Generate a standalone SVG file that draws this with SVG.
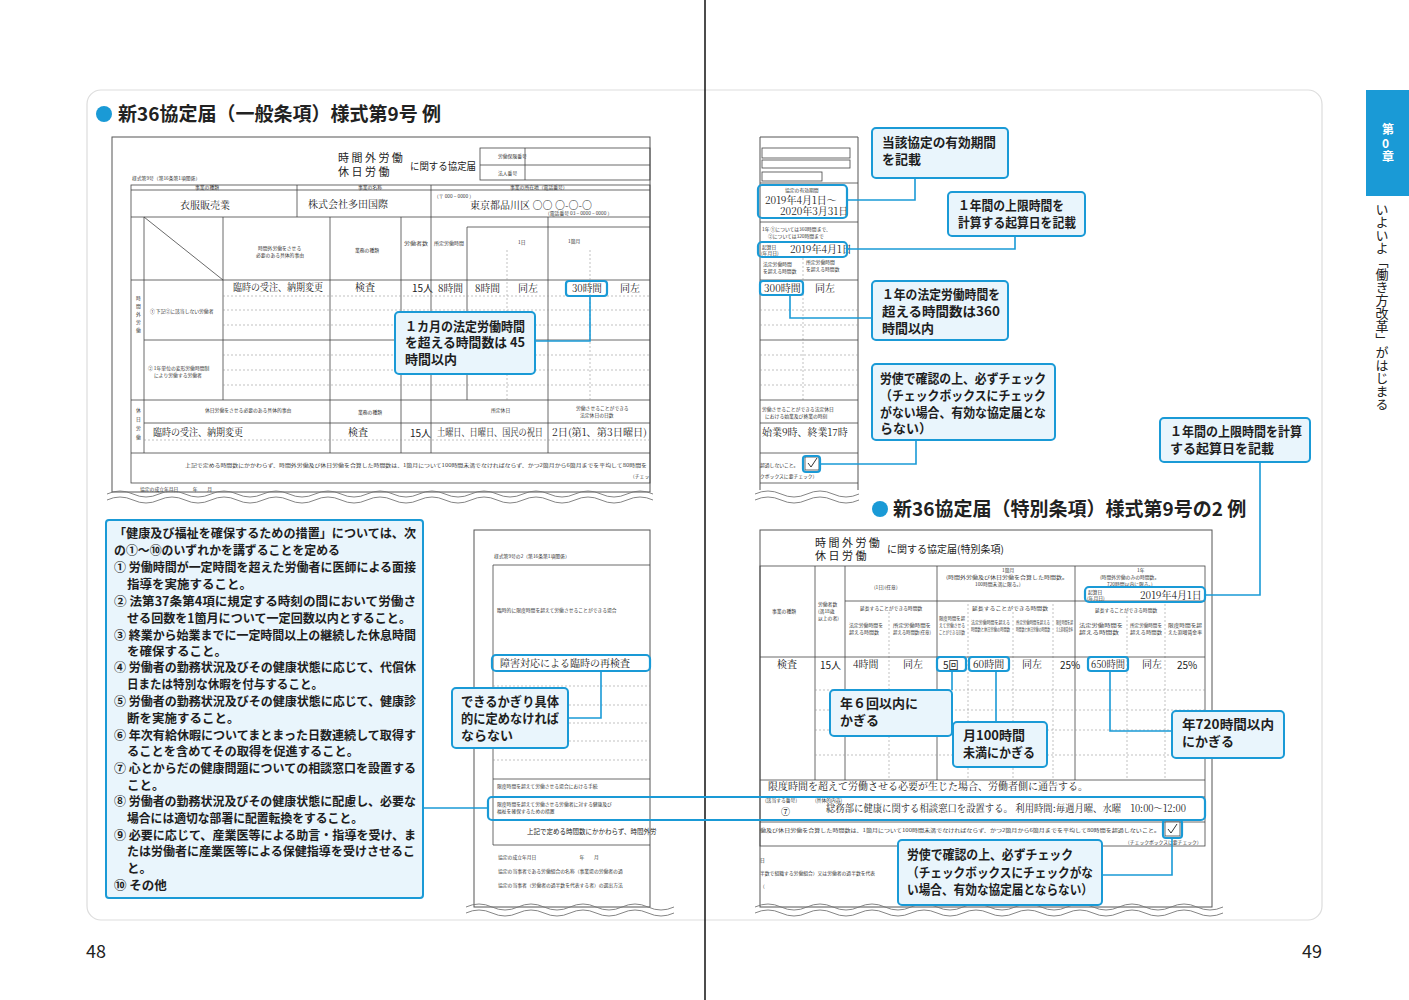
<svg xmlns="http://www.w3.org/2000/svg" width="1409" height="1000" viewBox="0 0 1409 1000">
<style>
text{font-family:"Noto Sans CJK JP","Noto Sans",sans-serif;fill:#222}
.f{fill:#fff;stroke:#555;stroke-width:1}
.t{fill:none;stroke:#444;stroke-width:0.8}
.d{fill:none;stroke:#999;stroke-width:0.6;stroke-dasharray:2 2}
.hl{fill:none;stroke:#1a9ad6;stroke-width:2.2}
.co{fill:#e9f5fc;stroke:#1a9ad6;stroke-width:2}
.cl{fill:none;stroke:#1a9ad6;stroke-width:1.6}
.ct{font-size:13px;font-weight:bold;fill:#1e1e1e}
.m{font-size:12.5px;font-weight:bold;fill:#1e1e1e}
.s{font-size:4.8px;fill:#333}
.v{font-size:10px;fill:#222;font-family:"Noto Serif CJK JP","Noto Sans CJK JP",serif}
.w{fill:none;stroke:#777;stroke-width:0.9}
.tt{font-size:19px;font-weight:bold}
</style>
<rect x="0" y="0" width="1409" height="1000" fill="#fff"/>
<rect x="87" y="90" width="1235" height="830" rx="14" fill="none" stroke="#ddd" stroke-width="1.2"/>
<line x1="705" y1="0" x2="705" y2="1000" stroke="#111" stroke-width="1.5"/>
<text x="86" y="958" font-size="18">48</text>
<text x="1302" y="958" font-size="18">49</text>
<g id="tab">
<rect x="1366" y="90" width="43" height="106" fill="#1a9ad6"/>
<text x="1382" y="134" font-size="12" font-weight="bold" style="fill:#fff">第</text>
<text x="1382" y="148" font-size="12" font-weight="bold" style="fill:#fff">0</text>
<text x="1382" y="161" font-size="12" font-weight="bold" style="fill:#fff">章</text>
<text x="1382" y="203" font-size="13" writing-mode="vertical-rl">いよいよ「働き方改革」がはじまる</text>
</g>

<g id="title-left"><circle cx="104" cy="114" r="8" fill="#1a9ad6"/><text x="118" y="121" class="tt">新36協定届（一般条項）様式第9号 例</text></g>
<g id="title-right"><circle cx="880" cy="509" r="8" fill="#1a9ad6"/><text x="893" y="516" class="tt">新36協定届（特別条項）様式第9号の2 例</text></g>

<g id="form-left">
<rect x="112" y="137" width="538" height="355" class="f"/>
<text x="338" y="162" font-size="11">時 間 外 労 働</text>
<text x="338" y="176" font-size="11">休  日  労  働</text>
<text x="410" y="170" font-size="10" textLength="66" lengthAdjust="spacingAndGlyphs">に関する協定届</text>
<rect x="480" y="148" width="170" height="32" class="t"/>
<line x1="480" y1="165" x2="650" y2="165" class="t"/><line x1="525" y1="148" x2="525" y2="180" class="t"/>
<text x="498" y="158" class="s">労働保険番号</text><text x="498" y="175" class="s">法人番号</text>
<text x="132" y="180" class="s">様式第9号（第16条第1項関係）</text>
<rect x="131" y="185" width="519" height="298" class="t"/>
<line x1="131" y1="190" x2="650" y2="190" class="t"/>
<line x1="131" y1="217" x2="650" y2="217" class="t"/>
<line x1="131" y1="280" x2="650" y2="280" class="t"/>
<line x1="144" y1="340" x2="650" y2="340" class="t"/>
<line x1="131" y1="400" x2="650" y2="400" class="t"/>
<line x1="144" y1="423" x2="650" y2="423" class="t"/>
<line x1="131" y1="453" x2="650" y2="453" class="t"/>
<line x1="297" y1="185" x2="297" y2="217" class="t"/><line x1="431" y1="185" x2="431" y2="217" class="t"/>
<line x1="144" y1="217" x2="144" y2="453" class="t"/>
<line x1="144" y1="217" x2="223" y2="280" class="t"/>
<line x1="223" y1="217" x2="223" y2="400" class="t"/>
<line x1="330" y1="217" x2="330" y2="453" class="t"/>
<line x1="401" y1="217" x2="401" y2="453" class="t"/>
<line x1="431" y1="217" x2="431" y2="453" class="t"/>
<line x1="467" y1="227" x2="467" y2="400" class="t"/>
<line x1="548" y1="217" x2="548" y2="453" class="t"/>
<line x1="467" y1="227" x2="650" y2="227" class="t"/>
<line x1="507" y1="250" x2="507" y2="400" class="d"/><line x1="590" y1="250" x2="590" y2="400" class="d"/>
<line x1="223" y1="296" x2="650" y2="296" class="d"/><line x1="223" y1="310" x2="650" y2="310" class="d"/><line x1="223" y1="325" x2="650" y2="325" class="d"/>
<line x1="223" y1="355" x2="650" y2="355" class="d"/><line x1="223" y1="370" x2="650" y2="370" class="d"/><line x1="223" y1="385" x2="650" y2="385" class="d"/>
<line x1="144" y1="440" x2="650" y2="440" class="d"/>
<text x="195" y="189" class="s">事業の種類</text><text x="358" y="189" class="s">事業の名称</text><text x="510" y="189" class="s">事業の所在地（電話番号）</text>
<text x="180" y="209" class="v" font-size="11">衣服販売業</text>
<text x="308" y="208" class="v" font-size="11">株式会社多田国際</text>
<text x="434" y="198" class="s">（〒 000 − 0000 ）</text>
<text x="470" y="209" class="v">東京都品川区 ○○ ○-○-○</text>
<text x="545" y="215" class="s">（電話番号 03 − 0000 − 0000 ）</text>
<text x="258" y="250" class="s">時間外労働をさせる</text><text x="256" y="257" class="s">必要のある具体的事由</text>
<text x="355" y="252" class="s">業務の種類</text>
<text x="404" y="245" class="s" textLength="24" lengthAdjust="spacingAndGlyphs">労働者数</text><text x="434" y="245" class="s" textLength="30" lengthAdjust="spacingAndGlyphs">所定労働時間</text>
<text x="518" y="244" class="s">1日</text><text x="568" y="243" class="s">1箇月</text>
<text x="150" y="313" class="s">① 下記②に該当しない労働者</text>
<text x="148" y="370" class="s">② 1年単位の変形労働時間制</text><text x="154" y="377" class="s">により労働する労働者</text>
<text x="136" y="300" class="s">時</text><text x="136" y="308" class="s">間</text><text x="136" y="316" class="s">外</text><text x="136" y="324" class="s">労</text><text x="136" y="332" class="s">働</text>
<text x="136" y="412" class="s">休</text><text x="136" y="421" class="s">日</text><text x="136" y="430" class="s">労</text><text x="136" y="439" class="s">働</text>
<text x="233" y="291" class="v" textLength="90" lengthAdjust="spacingAndGlyphs">臨時の受注、納期変更</text>
<text x="355" y="291" class="v">検査</text>
<text x="412" y="292" font-size="10">15人</text>
<text x="438" y="292" class="v" textLength="25" lengthAdjust="spacingAndGlyphs">8時間</text>
<text x="475" y="292" class="v" textLength="25" lengthAdjust="spacingAndGlyphs">8時間</text>
<text x="518" y="292" class="v">同左</text>
<text x="572" y="292" class="v" textLength="30" lengthAdjust="spacingAndGlyphs">30時間</text>
<text x="620" y="292" class="v">同左</text>
<rect x="566" y="281" width="41" height="15" rx="3" class="hl"/>
<text x="205" y="412" class="s">休日労働をさせる必要のある具体的事由</text><text x="358" y="414" class="s">業務の種類</text>
<text x="491" y="412" class="s">所定休日</text><text x="576" y="410" class="s">労働させることができる</text><text x="580" y="417" class="s">法定休日の日数</text>
<text x="153" y="436" class="v" textLength="90" lengthAdjust="spacingAndGlyphs">臨時の受注、納期変更</text>
<text x="348" y="436" class="v">検査</text>
<text x="410" y="437" font-size="10">15人</text>
<text x="437" y="436" class="v" textLength="106" lengthAdjust="spacingAndGlyphs">土曜日、日曜日、国民の祝日</text>
<text x="552" y="436" class="v" textLength="95" lengthAdjust="spacingAndGlyphs">2日(第1、第3日曜日)</text>
<text x="185" y="467" class="s" textLength="462" lengthAdjust="spacingAndGlyphs">上記で定める時間数にかかわらず、時間外労働及び休日労働を合算した時間数は、1箇月について100時間未満でなければならず、かつ2箇月から6箇月までを平均して80時間を</text>
<text x="630" y="478" class="s">（チェッ</text>
<text x="140" y="491" class="s">協定の成立年月日　　　年　　月</text>
<path class="w" d="M107,494 q13,-6 26,0 t26,0 t26,0 t26,0 t26,0 t26,0 t26,0 t26,0 t26,0 t26,0 t26,0 t26,0 t26,0 t26,0 t26,0 t26,0 t26,0 t26,0 t26,0 t26,0 t26,0"/>
<path class="w" d="M107,500 q13,-6 26,0 t26,0 t26,0 t26,0 t26,0 t26,0 t26,0 t26,0 t26,0 t26,0 t26,0 t26,0 t26,0 t26,0 t26,0 t26,0 t26,0 t26,0 t26,0 t26,0 t26,0"/>
</g>

<g id="form-mid">
<rect x="474" y="530" width="176" height="377" class="f"/>
<text x="494" y="558" class="s">様式第9号の2（第16条第1項関係）</text>
<polyline points="650,565 493,565 493,845 650,845" class="t"/>
<text x="497" y="612" class="s">臨時的に限度時間を超えて労働させることができる場合</text>
<text x="500" y="667" class="v">障害対応による臨時の再検査</text>
<line x1="493" y1="686" x2="650" y2="686" class="d"/><line x1="493" y1="705" x2="650" y2="705" class="d"/><line x1="493" y1="723" x2="650" y2="723" class="d"/><line x1="493" y1="741" x2="650" y2="741" class="d"/><line x1="493" y1="760" x2="650" y2="760" class="d"/>
<line x1="493" y1="779" x2="650" y2="779" class="t"/>
<text x="497" y="788" class="s">限度時間を超えて労働させる場合における手続</text>
<text x="497" y="806" class="s">限度時間を超えて労働させる労働者に対する健康及び</text>
<text x="497" y="813" class="s">福祉を確保するための措置</text>
<text x="527" y="834" font-size="6.5" fill="#333">上記で定める時間数にかかわらず、時間外労</text>
<text x="498" y="859" class="s">協定の成立年月日　　　　　　　　　年　　月</text>
<text x="498" y="873" class="s">協定の当事者である労働組合の名称（事業場の労働者の過</text>
<text x="498" y="887" class="s">協定の当事者（労働者の過半数を代表する者）の選出方法</text>
<path class="w" d="M466,907 q13,-6 26,0 t26,0 t26,0 t26,0 t26,0 t26,0 t26,0 t26,0"/>
<path class="w" d="M466,913 q13,-6 26,0 t26,0 t26,0 t26,0 t26,0 t26,0 t26,0 t26,0"/>
</g>

<g id="form-right-top">
<polyline points="760,490 760,137 858,137 858,490" class="f"/>
<rect x="762" y="148" width="88" height="10" class="t"/><rect x="762" y="160" width="88" height="8" class="t"/>
<rect x="762" y="172" width="60" height="9" class="t"/>
<line x1="760" y1="183" x2="858" y2="183" class="t"/>
<text x="785" y="192" class="s">協定の有効期間</text>
<text x="765" y="204" font-size="9.5" class="v">2019年4月1日〜</text>
<text x="780" y="215" font-size="9.5" class="v">2020年3月31日</text>
<line x1="760" y1="222" x2="858" y2="222" class="t"/>
<text x="762" y="231" class="s">1年 ①については360時間まで、</text><text x="768" y="238" class="s">②については320時間まで</text>
<text x="762" y="249" class="s">起算日</text><text x="761" y="255" class="s" font-size="4.3">(年月日)</text>
<text x="790" y="253" font-size="9" class="v">2019年4月1日</text>
<text x="763" y="266" class="s">法定労働時間</text><text x="763" y="273" class="s">を超える時間数</text>
<text x="806" y="264" class="s">所定労働時間</text><text x="806" y="271" class="s">を超える時間数</text>
<line x1="760" y1="280" x2="858" y2="280" class="t"/>
<line x1="803" y1="258" x2="803" y2="400" class="d"/>
<text x="764" y="292" class="v" font-size="9.5">300時間</text>
<text x="815" y="292" class="v">同左</text>
<line x1="760" y1="310" x2="858" y2="310" class="d"/><line x1="760" y1="325" x2="858" y2="325" class="d"/><line x1="760" y1="340" x2="858" y2="340" class="t"/>
<line x1="760" y1="355" x2="858" y2="355" class="d"/><line x1="760" y1="370" x2="858" y2="370" class="d"/><line x1="760" y1="385" x2="858" y2="385" class="d"/>
<line x1="760" y1="400" x2="858" y2="400" class="t"/>
<text x="762" y="411" class="s">労働させることができる法定休日</text><text x="765" y="418" class="s">における始業及び終業の時刻</text>
<line x1="760" y1="423" x2="858" y2="423" class="t"/>
<text x="762" y="436" class="v" font-size="9">始業9時、終業17時</text>
<line x1="760" y1="453" x2="858" y2="453" class="t"/>
<text x="760" y="467" class="s">超過しないこと。</text>
<text x="760" y="478" class="s">クボックスに要チェック）</text>
<rect x="805" y="457" width="14" height="13" class="t"/>
<path d="M808,463 l3,4 l6,-9" fill="none" stroke="#333" stroke-width="1"/>
<line x1="760" y1="483" x2="858" y2="483" class="t"/>
<path class="w" d="M755,494 q13,-6 26,0 t26,0 t26,0 t26,0"/>
<path class="w" d="M755,500 q13,-6 26,0 t26,0 t26,0 t26,0"/>
</g>

<g id="form-special">
<rect x="760" y="530" width="452" height="377" class="f"/>
<text x="815" y="547" font-size="11">時 間 外 労 働</text>
<text x="815" y="560" font-size="11">休  日  労  働</text>
<text x="887" y="553" font-size="10">に関する協定届(特別条項)</text>
<rect x="760" y="566" width="445" height="280" class="t"/>
<line x1="815" y1="566" x2="815" y2="780" class="t"/>
<line x1="845" y1="566" x2="845" y2="780" class="t"/>
<line x1="937" y1="566" x2="937" y2="780" class="t"/>
<line x1="1075" y1="566" x2="1075" y2="780" class="t"/>
<line x1="845" y1="601" x2="1205" y2="601" class="t"/>
<line x1="889" y1="612" x2="889" y2="780" class="d"/>
<line x1="968" y1="604" x2="968" y2="780" class="d"/>
<line x1="1013" y1="612" x2="1013" y2="780" class="d"/>
<line x1="1053" y1="604" x2="1053" y2="780" class="d"/>
<line x1="1127" y1="612" x2="1127" y2="780" class="d"/>
<line x1="1165" y1="604" x2="1165" y2="780" class="d"/>
<line x1="760" y1="657" x2="1205" y2="657" class="t"/>
<line x1="815" y1="690" x2="1205" y2="690" class="d"/><line x1="815" y1="710" x2="1205" y2="710" class="d"/><line x1="815" y1="730" x2="1205" y2="730" class="d"/><line x1="815" y1="755" x2="1205" y2="755" class="d"/>
<line x1="760" y1="780" x2="1205" y2="780" class="t"/>
<line x1="760" y1="797" x2="1205" y2="797" class="t"/>
<line x1="760" y1="822" x2="1205" y2="822" class="t"/>
<text x="772" y="613" class="s">事業の種類</text>
<text x="818" y="606" class="s">労働者数</text><text x="818" y="613" class="s">(満18歳</text><text x="818" y="620" class="s">以上の者)</text>
<text x="874" y="589" class="s">(1日)(任意)</text>
<text x="860" y="610" class="s">延長することができる時間数</text>
<text x="849" y="627" class="s" textLength="34" lengthAdjust="spacingAndGlyphs">法定労働時間を</text><text x="849" y="634" class="s" textLength="30" lengthAdjust="spacingAndGlyphs">超える時間数</text>
<text x="893" y="627" class="s" textLength="38" lengthAdjust="spacingAndGlyphs">所定労働時間を</text><text x="893" y="634" class="s" textLength="38" lengthAdjust="spacingAndGlyphs">超える時間数(任意)</text>
<text x="1002" y="572" class="s">1箇月</text>
<text x="946" y="579" class="s" textLength="122" lengthAdjust="spacingAndGlyphs">(時間外労働及び休日労働を合算した時間数。</text>
<text x="975" y="586" class="s">100時間未満に限る。)</text>
<text x="939" y="620" class="s" textLength="26" lengthAdjust="spacingAndGlyphs">限度時間を超</text><text x="939" y="627" class="s" textLength="26" lengthAdjust="spacingAndGlyphs">えて労働させる</text><text x="939" y="634" class="s" textLength="26" lengthAdjust="spacingAndGlyphs">ことができる回数</text>
<text x="972" y="610" class="s" textLength="76" lengthAdjust="spacingAndGlyphs">延長することができる時間数</text>
<text x="971" y="624" class="s" textLength="39" lengthAdjust="spacingAndGlyphs">法定労働時間を超える</text><text x="971" y="631" class="s" textLength="39" lengthAdjust="spacingAndGlyphs">時間数と休日労働の時間数</text>
<text x="1016" y="624" class="s" textLength="34" lengthAdjust="spacingAndGlyphs">所定労働時間を超える</text><text x="1016" y="631" class="s" textLength="34" lengthAdjust="spacingAndGlyphs">時間数と休日労働の時間数</text>
<text x="1056" y="624" class="s" textLength="17" lengthAdjust="spacingAndGlyphs">限度時間を超</text><text x="1056" y="631" class="s" textLength="17" lengthAdjust="spacingAndGlyphs">えた割増賃金率</text>
<text x="1137" y="572" class="s">1年</text>
<text x="1100" y="579" class="s">(時間外労働のみの時間数。</text><text x="1107" y="586" class="s">720時間以内に限る。)</text>
<text x="1088" y="594" class="s" font-size="4.3">起算日</text><text x="1087" y="600" class="s" font-size="4.3">(年月日)</text>
<text x="1140" y="599" class="v" font-size="9">2019年4月1日</text>
<text x="1095" y="612" class="s">延長することができる時間数</text>
<text x="1079" y="627" class="s" textLength="44" lengthAdjust="spacingAndGlyphs">法定労働時間を</text><text x="1079" y="634" class="s" textLength="40" lengthAdjust="spacingAndGlyphs">超える時間数</text>
<text x="1130" y="627" class="s" textLength="32" lengthAdjust="spacingAndGlyphs">所定労働時間を</text><text x="1130" y="634" class="s" textLength="32" lengthAdjust="spacingAndGlyphs">超える時間数</text>
<text x="1168" y="627" class="s" textLength="34" lengthAdjust="spacingAndGlyphs">限度時間を超</text><text x="1168" y="634" class="s" textLength="34" lengthAdjust="spacingAndGlyphs">えた割増賃金率</text>
<text x="777" y="668" class="v">検査</text>
<text x="820" y="669" font-size="10">15人</text>
<text x="853" y="668" class="v">4時間</text>
<text x="903" y="668" class="v">同左</text>
<text x="943" y="669" font-size="10">5回</text>
<text x="973" y="668" class="v">60時間</text>
<text x="1022" y="668" class="v">同左</text>
<text x="1060" y="669" font-size="10">25%</text>
<text x="1091" y="668" class="v" textLength="34" lengthAdjust="spacingAndGlyphs">650時間</text>
<text x="1142" y="668" class="v">同左</text>
<text x="1177" y="669" font-size="10">25%</text>
<text x="768" y="790" class="v" font-size="10.5">限度時間を超えて労働させる必要が生じた場合、労働者側に通告する。</text>
<text x="765" y="802" class="s">(該当する番号)</text>
<text x="781" y="815" font-size="9">⑦</text>
<text x="815" y="802" class="s">(具体的内容)</text>
<text x="826" y="812" class="v" font-size="10.5" textLength="360" lengthAdjust="spacingAndGlyphs">総務部に健康に関する相談窓口を設置する。 利用時間:毎週月曜、水曜　10:00〜12:00</text>
<text x="760" y="832" class="s" textLength="400" lengthAdjust="spacingAndGlyphs">働及び休日労働を合算した時間数は、1箇月について100時間未満でなければならず、かつ2箇月から6箇月までを平均して80時間を超過しないこと。</text>
<text x="1125" y="844" class="s">（チェックボックスに要チェック）</text>
<rect x="1165" y="822" width="15" height="14" class="t" style="fill:#fff"/>
<path d="M1168,829 l3,4 l6,-9" fill="none" stroke="#333" stroke-width="1"/>
<text x="760" y="862" class="s">日</text>
<text x="760" y="875" class="s">半数で組織する労働組合）又は労働者の過半数を代表</text>
<text x="760" y="888" class="s">（</text>
<path class="w" d="M755,907 q13,-6 26,0 t26,0 t26,0 t26,0 t26,0 t26,0 t26,0 t26,0 t26,0 t26,0 t26,0 t26,0 t26,0 t26,0 t26,0 t26,0 t26,0 t26,0"/>
<path class="w" d="M755,913 q13,-6 26,0 t26,0 t26,0 t26,0 t26,0 t26,0 t26,0 t26,0 t26,0 t26,0 t26,0 t26,0 t26,0 t26,0 t26,0 t26,0 t26,0 t26,0"/>
</g>

<g id="highlights">
<rect x="758" y="185" width="89" height="33" rx="4" class="hl"/>
<rect x="758" y="242" width="89" height="15" rx="4" class="hl"/>
<rect x="760" y="281" width="43" height="14" rx="3" class="hl"/>
<rect x="803" y="456" width="17" height="16" rx="3" class="hl"/>
<rect x="492" y="655" width="158" height="16" rx="4" class="hl"/>
<rect x="488" y="797" width="717" height="23" rx="4" class="hl"/>
<rect x="1085" y="587" width="120" height="15" rx="4" class="hl"/>
<rect x="937" y="657" width="29" height="14" rx="3" class="hl"/>
<rect x="969" y="657" width="40" height="14" rx="3" class="hl"/>
<rect x="1088" y="657" width="40" height="14" rx="3" class="hl"/>
<rect x="1163" y="820" width="19" height="18" rx="3" class="hl"/>
</g>

<g id="connectors">
<path class="cl" d="M535,341 H590 V296"/>
<path class="cl" d="M915,178 V200 H847"/>
<path class="cl" d="M847,249 H1015 V236"/>
<path class="cl" d="M790,295 V318 H872"/>
<path class="cl" d="M916,440 V464 H820"/>
<path class="cl" d="M1260,462 V595 H1205"/>
<path class="cl" d="M568,718 H601 V671"/>
<path class="cl" d="M423,808 H488"/>
<path class="cl" d="M952,671 V690"/>
<path class="cl" d="M996,671 V722"/>
<path class="cl" d="M1110,671 V731 H1172"/>
<path class="cl" d="M1102,875 H1172 V838"/>
</g>

<g id="c1"><rect x="395" y="312" width="140" height="62" rx="4" class="co"/>
<text x="405" y="331" class="ct" textLength="120" lengthAdjust="spacingAndGlyphs">１カ月の法定労働時間</text><text x="405" y="347" class="ct" textLength="120" lengthAdjust="spacingAndGlyphs">を超える時間数は 45</text><text x="405" y="364" class="ct">時間以内</text></g>
<g id="c2"><rect x="452" y="688" width="116" height="60" rx="4" class="co"/>
<text x="461" y="706" class="ct" textLength="98" lengthAdjust="spacingAndGlyphs">できるかぎり具体</text><text x="461" y="723" class="ct" textLength="98" lengthAdjust="spacingAndGlyphs">的に定めなければ</text><text x="461" y="740" class="ct">ならない</text></g>
<g id="cA"><rect x="872" y="128" width="136" height="50" rx="4" class="co"/>
<text x="882" y="147" class="ct" textLength="114" lengthAdjust="spacingAndGlyphs">当該協定の有効期間</text><text x="882" y="164" class="ct">を記載</text></g>
<g id="cB"><rect x="948" y="192" width="137" height="44" rx="4" class="co"/>
<text x="958" y="210" class="ct" textLength="106" lengthAdjust="spacingAndGlyphs">１年間の上限時間を</text><text x="958" y="227" class="ct" textLength="118" lengthAdjust="spacingAndGlyphs">計算する起算日を記載</text></g>
<g id="cC"><rect x="872" y="281" width="136" height="59" rx="4" class="co"/>
<text x="882" y="299" class="ct" textLength="118" lengthAdjust="spacingAndGlyphs">１年の法定労働時間を</text><text x="882" y="316" class="ct" textLength="118" lengthAdjust="spacingAndGlyphs">超える時間数は360</text><text x="882" y="333" class="ct">時間以内</text></g>
<g id="cD"><rect x="872" y="364" width="183" height="76" rx="4" class="co"/>
<text x="880" y="383" class="ct" textLength="166" lengthAdjust="spacingAndGlyphs">労使で確認の上、必ずチェック</text><text x="880" y="400" class="ct" textLength="166" lengthAdjust="spacingAndGlyphs">（チェックボックスにチェック</text><text x="880" y="417" class="ct" textLength="166" lengthAdjust="spacingAndGlyphs">がない場合、有効な協定届とな</text><text x="880" y="433" class="ct">らない）</text></g>
<g id="cE"><rect x="1160" y="418" width="150" height="44" rx="4" class="co"/>
<text x="1170" y="436" class="ct" textLength="132" lengthAdjust="spacingAndGlyphs">１年間の上限時間を計算</text><text x="1170" y="453" class="ct">する起算日を記載</text></g>
<g id="cF"><rect x="830" y="690" width="122" height="46" rx="4" class="co"/>
<text x="840" y="708" class="ct">年６回以内に</text><text x="840" y="725" class="ct">かぎる</text></g>
<g id="cG"><rect x="953" y="722" width="94" height="45" rx="4" class="co"/>
<text x="963" y="740" class="ct">月100時間</text><text x="963" y="757" class="ct" textLength="72" lengthAdjust="spacingAndGlyphs">未満にかぎる</text></g>
<g id="cH"><rect x="1172" y="711" width="112" height="47" rx="4" class="co"/>
<text x="1182" y="729" class="ct" textLength="92" lengthAdjust="spacingAndGlyphs">年720時間以内</text><text x="1182" y="746" class="ct">にかぎる</text></g>
<g id="cI"><rect x="898" y="840" width="204" height="65" rx="4" class="co"/>
<text x="907" y="859" class="ct" textLength="166" lengthAdjust="spacingAndGlyphs">労使で確認の上、必ずチェック</text><text x="907" y="877" class="ct" textLength="186" lengthAdjust="spacingAndGlyphs">（チェックボックスにチェックがな</text><text x="907" y="894" class="ct" textLength="186" lengthAdjust="spacingAndGlyphs">い場合、有効な協定届とならない）</text></g>

<g id="measures">
<rect x="106" y="520" width="317" height="378" rx="3" class="co"/>
<text x="114" y="538" class="m" textLength="302" lengthAdjust="spacingAndGlyphs">「健康及び福祉を確保するための措置」については、次</text>
<text x="114" y="555" class="m" textLength="226" lengthAdjust="spacingAndGlyphs">の①〜⑩のいずれかを講ずることを定める</text>
<text x="114" y="572" class="m" textLength="302" lengthAdjust="spacingAndGlyphs">① 労働時間が一定時間を超えた労働者に医師による面接</text>
<text x="127" y="589" class="m">指導を実施すること。</text>
<text x="114" y="606" class="m" textLength="302" lengthAdjust="spacingAndGlyphs">② 法第37条第4項に規定する時刻の間において労働さ</text>
<text x="127" y="623" class="m" textLength="284" lengthAdjust="spacingAndGlyphs">せる回数を1箇月について一定回数以内とすること。</text>
<text x="114" y="640" class="m" textLength="302" lengthAdjust="spacingAndGlyphs">③ 終業から始業までに一定時間以上の継続した休息時間</text>
<text x="127" y="656" class="m">を確保すること。</text>
<text x="114" y="672" class="m" textLength="302" lengthAdjust="spacingAndGlyphs">④ 労働者の勤務状況及びその健康状態に応じて、代償休</text>
<text x="127" y="689" class="m" textLength="196" lengthAdjust="spacingAndGlyphs">日または特別な休暇を付与すること。</text>
<text x="114" y="706" class="m" textLength="302" lengthAdjust="spacingAndGlyphs">⑤ 労働者の勤務状況及びその健康状態に応じて、健康診</text>
<text x="127" y="723" class="m">断を実施すること。</text>
<text x="114" y="740" class="m" textLength="302" lengthAdjust="spacingAndGlyphs">⑥ 年次有給休暇についてまとまった日数連続して取得す</text>
<text x="127" y="756" class="m" textLength="232" lengthAdjust="spacingAndGlyphs">ることを含めてその取得を促進すること。</text>
<text x="114" y="773" class="m" textLength="302" lengthAdjust="spacingAndGlyphs">⑦ 心とからだの健康問題についての相談窓口を設置する</text>
<text x="127" y="790" class="m">こと。</text>
<text x="114" y="806" class="m" textLength="302" lengthAdjust="spacingAndGlyphs">⑧ 労働者の勤務状況及びその健康状態に配慮し、必要な</text>
<text x="127" y="823" class="m" textLength="236" lengthAdjust="spacingAndGlyphs">場合には適切な部署に配置転換をすること。</text>
<text x="114" y="840" class="m" textLength="302" lengthAdjust="spacingAndGlyphs">⑨ 必要に応じて、産業医等による助言・指導を受け、ま</text>
<text x="127" y="856" class="m" textLength="288" lengthAdjust="spacingAndGlyphs">たは労働者に産業医等による保健指導を受けさせるこ</text>
<text x="127" y="873" class="m">と。</text>
<text x="114" y="890" class="m">⑩ その他</text>
</g>
</svg>
